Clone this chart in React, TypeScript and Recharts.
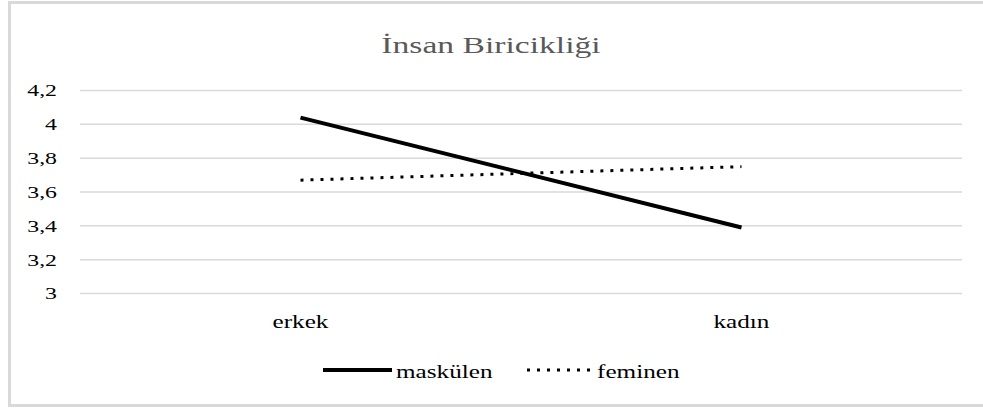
import { LineChart, Line, XAxis, YAxis, CartesianGrid } from 'recharts'

const genders = ['erkek', 'kadın']
const maskulen = [4.04, 3.39]
const feminen = [3.67, 3.75]
const yTicks = [3, 3.2, 3.4, 3.6, 3.8, 4, 4.2]

const data = genders.map((g, i) => ({ gender: g, maskulen: maskulen[i], feminen: feminen[i] }))

const FONT = '"Liberation Serif", "Times New Roman", serif'
const STRETCH = 1.4

// the source picture is stretched sideways, so every text gets a horizontal scale
function wide(x: number, y: number) {
  return `translate(${x} ${y}) scale(${STRETCH} 1) translate(${-x} ${-y})`
}

function YTick({ x, y, payload }: any) {
  return (
    <text x={x} y={y + 6} textAnchor="end" fontSize={17} fontFamily={FONT} fill="#000" transform={wide(x, y)}>
      {String(payload.value).replace('.', ',')}
    </text>
  )
}

function XTick({ x, y, payload }: any) {
  return (
    <text x={x} y={y + 27} textAnchor="middle" fontSize={18} fontFamily={FONT} fill="#000" transform={wide(x, y)}>
      {payload.value}
    </text>
  )
}

function LegendBox() {
  const base = 28
  return (
    <svg width={983} height={40} style={{ position: 'absolute', left: 0, top: 350 }}>
      <line x1={323} x2={392} y1={20} y2={20} stroke="#000" strokeWidth={4} />
      <text x={396} y={base} fontSize={18} fontFamily={FONT} fill="#000" transform={wide(396, base)}>
        maskülen
      </text>
      <line x1={527} x2={590} y1={20} y2={20} stroke="#000" strokeWidth={3} strokeDasharray="3 7" />
      <text x={597} y={base} fontSize={18} fontFamily={FONT} fill="#000" transform={wide(597, base)}>
        feminen
      </text>
    </svg>
  )
}

export default function App() {
  return (
    <div style={{ position: 'absolute', left: 0, top: 0, width: 983, height: 408, background: '#fff' }}>
      <div
        style={{
          position: 'absolute',
          left: 8,
          top: 1,
          width: 990,
          height: 400,
          borderLeft: '3px solid #d9d9d9',
          borderTop: '3px solid #d9d9d9',
          borderBottom: '3px solid #d9d9d9',
        }}
      />
      <svg width={983} height={70} style={{ position: 'absolute', left: 0, top: 0 }}>
        <text x={491} y={53} textAnchor="middle" fontSize={24} fontFamily={FONT} fill="#595959" transform={wide(491, 53)}>
          İnsan Biricikliği
        </text>
      </svg>
      <div style={{ position: 'absolute', left: 0, top: 0 }}>
        <LineChart width={983} height={408} data={data} margin={{ top: 90.5, right: 21, bottom: 74.5, left: 0 }}>
          <CartesianGrid vertical={false} stroke="#d9d9d9" strokeWidth={1.5} />
          <XAxis
            dataKey="gender"
            axisLine={false}
            tickLine={false}
            tick={XTick}
            height={40}
            interval={0}
            padding={{ left: 220.5, right: 220.5 }}
          />
          <YAxis
            domain={[3, 4.2]}
            ticks={yTicks}
            interval={0}
            axisLine={false}
            tickLine={false}
            width={80}
            tickMargin={17}
            tick={YTick}
          />
          <Line
            dataKey="maskulen"
            name="maskülen"
            stroke="#000"
            strokeWidth={4}
            dot={false}
            activeDot={false}
            isAnimationActive={false}
          />
          <Line
            dataKey="feminen"
            name="feminen"
            stroke="#000"
            strokeWidth={3}
            strokeDasharray="3 7"
            dot={false}
            activeDot={false}
            isAnimationActive={false}
          />
        </LineChart>
      </div>
      <LegendBox />
    </div>
  )
}
